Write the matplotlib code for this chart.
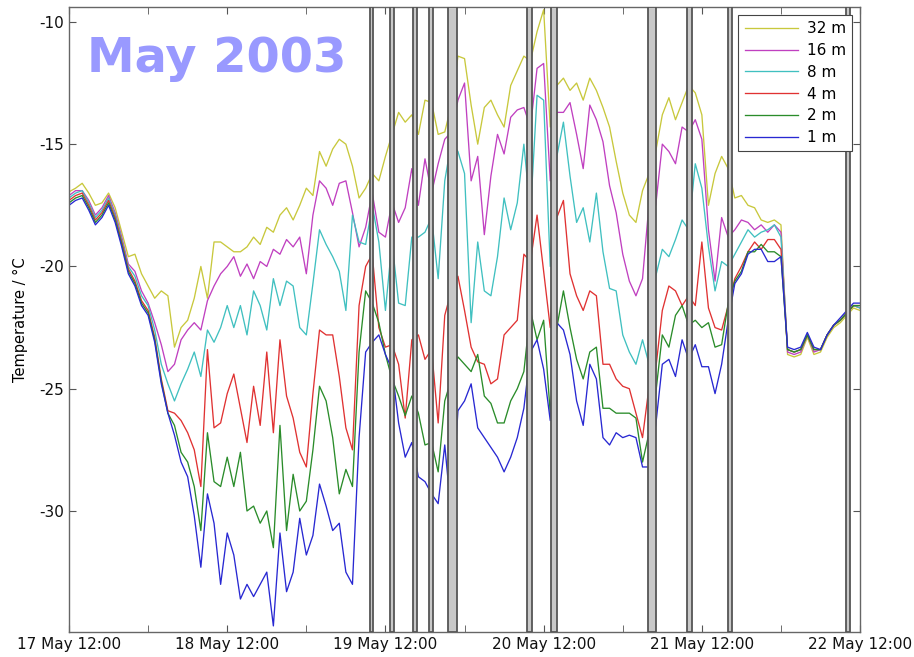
import matplotlib

matplotlib.use("Agg")
import matplotlib.pyplot as plt
import matplotlib.dates as mdates
import pandas as pd

plt.rcParams["axes.unicode_minus"] = False

# hourly samples, 17 May 12:00 -> 22 May 12:00 (121 values per depth)
times = pd.date_range("2003-05-17 12:00", periods=121, freq="h")

t32 = [-16.95, -16.8, -16.6, -17.0, -17.5, -17.4, -17.0, -17.6, -18.6, -19.6,
       -19.5, -20.3, -20.8, -21.3, -21.0, -21.2, -23.3, -22.5, -22.2, -21.3,
       -20.0, -21.3, -19.0, -19.0, -19.2, -19.4, -19.4, -19.2, -18.8, -19.1,
       -18.4, -18.6, -17.9, -17.6, -18.1, -17.5, -16.8, -17.1, -15.3, -15.9,
       -15.2, -14.8, -15.0, -15.9, -17.2, -16.8, -16.2, -16.5, -15.5, -14.6,
       -13.7, -14.1, -13.8, -14.6, -13.2, -13.3, -14.6, -14.5, -13.4, -11.4,
       -11.5, -13.4, -15.0, -13.5, -13.2, -13.8, -14.3, -12.6, -12.0, -11.4,
       -11.6, -10.4, -9.5, -14.3, -12.6, -12.3, -12.8, -12.5, -13.2, -12.3,
       -12.8, -13.5, -14.3, -15.7, -17.0, -17.9, -18.2, -16.9, -16.2, -15.3,
       -13.8, -13.1, -14.0, -13.3, -12.6, -12.9, -13.8, -17.5, -16.2, -15.5,
       -16.0, -17.2, -17.1, -17.5, -17.6, -18.1, -18.2, -18.1, -18.3, -23.6,
       -23.7, -23.6, -22.9, -23.6, -23.5, -22.9, -22.5, -22.3, -22.0, -21.7,
       -21.8]

t16 = [-17.1, -16.9, -16.9, -17.3, -17.9, -17.6, -17.1, -17.8, -18.8, -19.9,
       -20.2, -21.0, -21.5, -22.3, -23.2, -24.3, -24.0, -23.0, -22.6, -22.3,
       -22.6, -21.4, -20.8, -20.3, -20.0, -19.6, -20.4, -19.9, -20.5, -19.8,
       -20.0, -19.3, -19.5, -18.9, -19.2, -18.8, -20.3, -17.9, -16.5, -16.8,
       -17.5, -16.6, -16.5, -17.8, -19.2, -18.4, -17.0, -18.6, -18.8, -17.4,
       -18.2, -17.6, -16.0, -17.5, -15.6, -17.0, -15.8, -14.8, -14.5, -13.2,
       -12.5, -16.5, -15.5, -18.7, -16.3, -14.6, -15.4, -13.9, -13.6, -13.5,
       -14.3, -11.9, -11.7, -16.5, -13.7, -13.7, -13.3, -14.6, -16.0, -13.4,
       -14.0, -14.9, -16.7, -17.8, -19.5, -20.6, -21.2, -20.5, -17.4, -17.5,
       -15.0, -15.3, -15.8, -14.3, -14.5, -14.0, -14.8, -18.5, -20.6, -18.0,
       -18.8, -18.5, -18.1, -18.2, -18.5, -18.3, -18.6, -18.3, -18.6, -23.5,
       -23.6, -23.5, -22.8, -23.5, -23.4, -22.8, -22.4, -22.2, -21.9, -21.6,
       -21.7]

t8 = [-17.2, -17.0, -16.9, -17.4, -18.0, -17.7, -17.2, -17.9, -18.9, -20.0,
      -20.4, -21.2, -21.6, -22.6, -24.0, -24.8, -25.5, -24.8, -24.2, -23.5,
      -24.5, -22.6, -23.1, -22.5, -21.6, -22.5, -21.6, -22.8, -21.0, -21.6,
      -22.6, -20.5, -21.6, -20.6, -20.8, -22.5, -22.8, -20.7, -18.5, -19.1,
      -19.6, -20.2, -21.8, -17.9, -19.0, -19.1, -17.5, -19.0, -21.8, -19.0,
      -21.5, -21.6, -18.8, -18.8, -18.6, -18.0, -20.5, -16.5, -14.9, -15.3,
      -16.2, -22.3, -19.0, -21.0, -21.2, -19.6, -17.2, -18.5, -17.4, -15.0,
      -17.8, -13.0, -13.2, -20.0, -15.5, -14.1, -16.3, -18.2, -17.6, -19.0,
      -17.0, -19.4, -20.9, -21.0, -22.8, -23.5, -24.0, -23.0, -24.0, -20.4,
      -19.3, -19.6, -18.9, -18.1, -18.5, -15.8, -16.8, -19.2, -21.0, -19.8,
      -20.0, -19.5, -19.0, -18.5, -18.8, -18.6, -18.5, -18.3, -18.8, -23.4,
      -23.5, -23.4, -22.8, -23.4, -23.4, -22.8, -22.4, -22.2, -21.9, -21.6,
      -21.7]

t4 = [-17.3, -17.1, -17.0, -17.5, -18.1, -17.8, -17.3, -18.0, -19.0, -20.1,
      -20.6, -21.4, -21.8, -22.9, -24.6, -25.9, -26.0, -26.3, -26.8, -27.5,
      -29.0, -23.4, -26.6, -26.4, -25.2, -24.4, -25.8, -27.2, -24.9, -26.5,
      -23.5, -26.8, -23.0, -25.3, -26.2, -27.6, -28.2, -25.2, -22.6, -22.8,
      -22.8, -24.5, -26.6, -27.5, -21.6, -20.0, -19.5, -22.5, -23.3, -23.2,
      -24.0, -26.2, -23.0, -22.8, -23.8, -23.4, -26.4, -22.0, -21.0, -20.4,
      -21.8, -23.3, -23.9, -24.0, -24.8, -24.6, -22.8, -22.5, -22.2, -19.5,
      -19.8, -17.9, -20.2, -22.5, -18.0, -17.3, -20.3, -21.2, -21.8, -21.0,
      -21.2, -24.0, -24.0, -24.6, -24.9, -25.0, -26.0, -27.0, -24.9, -24.2,
      -21.8, -20.8, -21.0, -21.6, -21.2, -21.6, -19.0, -21.7, -22.5, -22.6,
      -21.6, -20.5, -20.0, -19.4, -19.0, -19.3, -18.9, -18.9, -19.3, -23.4,
      -23.5, -23.4, -22.8, -23.4, -23.4, -22.8, -22.4, -22.2, -21.9, -21.6,
      -21.6]

t2 = [-17.4, -17.2, -17.1, -17.6, -18.2, -17.9, -17.4, -18.1, -19.1, -20.2,
      -20.7, -21.5, -21.9, -23.0, -24.7, -26.0, -26.5, -27.6, -28.0, -29.0,
      -30.8, -26.8, -28.8, -29.0, -27.8, -29.0, -27.6, -30.0, -29.8, -30.5,
      -30.0, -31.5, -26.5, -30.8, -28.5, -30.0, -29.6, -27.5, -24.9, -25.5,
      -27.0, -29.3, -28.3, -29.0, -23.5, -21.0, -21.5, -22.3, -23.6, -24.6,
      -25.3, -26.1, -25.3, -26.0, -27.3, -27.2, -28.4, -25.5, -24.6, -23.7,
      -24.0, -24.3, -23.6, -25.3, -25.6, -26.4, -26.4, -25.5, -25.0, -24.3,
      -21.8, -23.0, -22.2, -26.0, -22.5, -21.0, -22.5, -23.8, -24.6, -23.5,
      -23.3, -25.8, -25.8, -26.0, -26.0, -26.0, -26.2, -28.0, -26.8, -25.2,
      -22.8, -23.3, -22.0, -21.6, -22.4, -22.2, -22.5, -22.3, -23.3, -23.2,
      -21.5, -20.6, -20.2, -19.4, -19.4, -19.1, -19.4, -19.4, -19.6, -23.4,
      -23.5, -23.4, -22.8, -23.4, -23.4, -22.8, -22.4, -22.2, -21.9, -21.6,
      -21.6]

t1 = [-17.5, -17.3, -17.2, -17.7, -18.3, -18.0, -17.5, -18.2, -19.2, -20.3,
      -20.8, -21.6, -22.0, -23.1, -24.8, -26.0, -26.9, -28.0, -28.6, -30.2,
      -32.3, -29.3, -30.5, -33.0, -30.9, -31.8, -33.6, -33.0, -33.5, -33.0,
      -32.5, -34.7, -30.9, -33.3, -32.5, -30.3, -31.8, -31.0, -28.9, -29.8,
      -30.8, -30.5, -32.5, -33.0, -27.0, -23.5, -23.1, -22.8, -23.6, -24.2,
      -26.4, -27.8, -27.2, -28.6, -28.8, -29.3, -29.7, -27.3, -30.2, -25.9,
      -25.5, -24.8, -26.6, -27.0, -27.4, -27.8, -28.4, -27.8, -27.0, -25.8,
      -23.5, -23.0, -24.2, -26.3, -22.3, -22.6, -23.6, -25.5, -26.5, -24.0,
      -24.6, -27.0, -27.3, -26.8, -27.0, -26.9, -27.0, -28.2, -28.2, -26.5,
      -24.0, -23.8, -24.5, -23.0, -23.8, -23.2, -24.1, -24.1, -25.2, -24.0,
      -22.2, -20.7, -20.3, -19.5, -19.3, -19.3, -19.8, -19.8, -19.6, -23.3,
      -23.4, -23.3, -22.7, -23.3, -23.4, -22.8, -22.4, -22.1, -21.8, -21.5,
      -21.5]

depth_labels = ["32 m", "16 m", "8 m", "4 m", "2 m", "1 m"]
series = [t32, t16, t8, t4, t2, t1]
colors = ["#c8c83c", "#c040c0", "#40c0c0", "#e03232", "#2a8c2a", "#2828d2"]

# shaded event periods
events = [
    ("2003-05-19 09:40", "2003-05-19 10:05"),
    ("2003-05-19 12:40", "2003-05-19 13:15"),
    ("2003-05-19 16:10", "2003-05-19 16:50"),
    ("2003-05-19 18:35", "2003-05-19 19:15"),
    ("2003-05-19 21:30", "2003-05-19 22:50"),
    ("2003-05-20 09:30", "2003-05-20 10:15"),
    ("2003-05-20 13:05", "2003-05-20 14:00"),
    ("2003-05-21 03:50", "2003-05-21 05:05"),
    ("2003-05-21 09:45", "2003-05-21 10:30"),
    ("2003-05-21 16:00", "2003-05-21 16:35"),
    ("2003-05-22 09:50", "2003-05-22 10:30"),
]

fig = plt.figure(figsize=(9.14, 6.57), dpi=100)
ax = fig.add_axes([0.0755, 0.038, 0.8655, 0.951])

for vals, lab, col in zip(series, depth_labels, colors):
    ax.plot(times, vals, color=col, lw=0.95, label=lab, zorder=2)

for start, end in events:
    ax.axvspan(pd.Timestamp(start), pd.Timestamp(end), facecolor="#c8c8c8",
               edgecolor="#555555", lw=1.3, zorder=3)

ax.set_xlim(pd.Timestamp("2003-05-17 12:00"), pd.Timestamp("2003-05-22 12:00"))
ax.set_ylim(-34.95, -9.4)
ax.set_yticks([-30, -25, -20, -15, -10])
ax.xaxis.set_major_locator(mdates.HourLocator(byhour=[12]))
ax.xaxis.set_minor_locator(mdates.HourLocator(byhour=[0]))
ax.xaxis.set_major_formatter(mdates.DateFormatter("%d %b %H:%M"))
ax.tick_params(which="both", direction="in", length=5, top=True, right=True,
               color="#555555", labelsize=11, labelcolor="#111111")
for sp in ax.spines.values():
    sp.set_color("#666666")
    sp.set_linewidth(1.0)
ax.set_ylabel("Temperature / °C", fontsize=10.5, labelpad=8)

ax.text(0.023, 0.896, "May 2003", transform=ax.transAxes, fontsize=34.5,
        fontweight="bold", color="#9999ff", va="baseline", ha="left", zorder=5)

leg = ax.legend(loc="upper right", fontsize=11, handlelength=3.5,
                labelspacing=0.45, fancybox=False, framealpha=1,
                borderaxespad=0.5, handletextpad=0.6)
leg.get_frame().set_edgecolor("#444444")
leg.get_frame().set_linewidth(0.8)
leg.set_zorder(6)

fig.savefig("out.png", dpi=100)
